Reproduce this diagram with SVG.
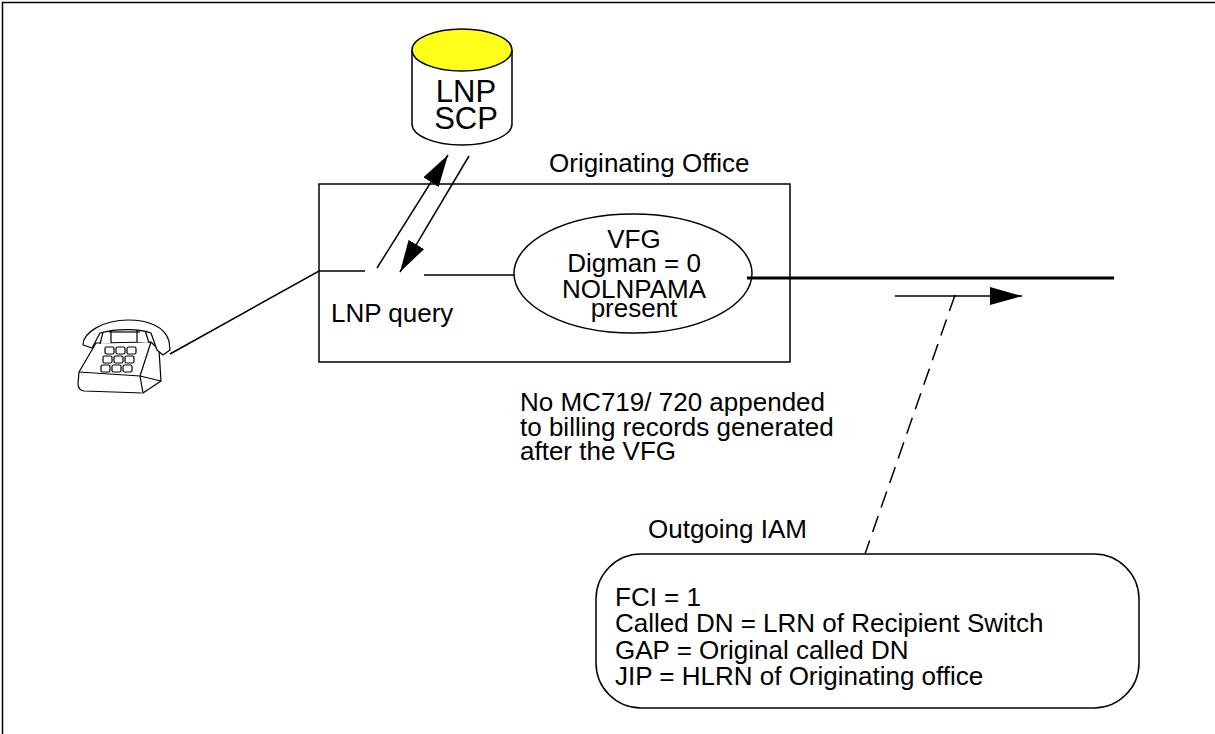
<svg xmlns="http://www.w3.org/2000/svg" width="1215" height="734" viewBox="0 0 1215 734">
  <style>
    .t { font-family: "Liberation Sans", Arial, sans-serif; font-size: 26px; fill: #000; }
    .big { font-size: 31px; }
    .c { text-anchor: middle; }
    .ln { fill: none; stroke: #000; stroke-width: 1.5; }
    .thick { fill: none; stroke: #000; stroke-width: 3; }
    .dash { fill: none; stroke: #000; stroke-width: 1.5; stroke-dasharray: 17 9; }
    .ph { fill: #fff; stroke: #000; stroke-width: 1.2; stroke-linejoin: round; }
  </style>
  <defs>
    <marker id="head" markerUnits="userSpaceOnUse" markerWidth="34" markerHeight="18" refX="32" refY="9" orient="auto">
      <path d="M0,0 L32,9 L0,18 Z" fill="#000"/>
    </marker>
  </defs>

  <rect width="1215" height="734" fill="#fff"/>
  <!-- page frame -->
  <path class="ln" d="M2.5,734 L2.5,2.5 L1215,2.5" stroke-width="2"/>

  <!-- LNP SCP database -->
  <g id="scp">
    <path d="M412,50 L412,124 A50,21 0 0 0 512,124 L512,50" fill="#fff" stroke="#000" stroke-width="1.5"/>
    <ellipse cx="462" cy="50" rx="50" ry="21" fill="#ffff19" stroke="#000" stroke-width="1.5"/>
    <text class="t big c" x="466" y="102">LNP</text>
    <text class="t big c" x="466" y="129">SCP</text>
  </g>

  <!-- originating office -->
  <g id="office">
    <rect class="ln" x="319" y="184" width="471" height="178"/>
    <text class="t" x="549" y="172">Originating Office</text>
    <text class="t" x="331" y="322">LNP query</text>
  </g>

  <!-- VFG -->
  <g id="vfg">
    <ellipse class="ln" cx="633" cy="273.5" rx="119" ry="59.5"/>
    <text class="t c" x="634" y="248">VFG</text>
    <text class="t c" x="634" y="272">Digman = 0</text>
    <text class="t c" x="634" y="298">NOLNPAMA</text>
    <text class="t c" x="634" y="317">present</text>
  </g>

  <!-- telephone set -->
  <g id="phone">
    <!-- body -->
    <path class="ph" d="M96,343 L151,342 L159,350 L161,381 L143,393 L84,391 Q78,390 78,384 L79,372 Z"/>
    <path class="ph" d="M79,372 L140,376 L143,393"/>
    <path class="ph" d="M140,376 L151,342"/>
    <path class="ph" d="M140,376 L161,381"/>
    <!-- cradle posts -->
    <path class="ph" d="M100,344 L104,328 L111,328 L111,343"/>
    <path class="ph" d="M137,342 L137,327 L144,327 L149,343"/>
    <!-- handset -->
    <path class="ph" d="M83,345 C83,332 104,320 128,320 C149,320 165,327 169,341 L170,350 L163,355 L157,350 L151,333 C141,329 118,328 100,333 L92,348 Z"/>
    <path class="ph" d="M109,332 L140,332"/>
    <!-- keypad -->
    <g class="ph" stroke-width="1">
      <rect x="105" y="347" width="9" height="7" rx="1.5"/>
      <rect x="116" y="347" width="9" height="7" rx="1.5"/>
      <rect x="127" y="347" width="9" height="7" rx="1.5"/>
      <rect x="103" y="356" width="9" height="7" rx="1.5"/>
      <rect x="114" y="356" width="9" height="7" rx="1.5"/>
      <rect x="125" y="356" width="9" height="7" rx="1.5"/>
      <rect x="101" y="365" width="9" height="7" rx="1.5"/>
      <rect x="112" y="365" width="9" height="7" rx="1.5"/>
      <rect x="123" y="365" width="9" height="7" rx="1.5"/>
    </g>
  </g>

  <!-- outgoing IAM -->
  <g id="iam">
    <rect class="ln" x="596" y="554" width="543" height="154" rx="45" ry="45"/>
    <text class="t" x="648" y="538">Outgoing IAM</text>
    <text class="t" x="615" y="606">FCI = 1</text>
    <text class="t" x="615" y="632">Called DN = LRN of Recipient Switch</text>
    <text class="t" x="615" y="659">GAP = Original called DN</text>
    <text class="t" x="615" y="685">JIP = HLRN of Originating office</text>
  </g>

  <!-- billing note -->
  <g id="note">
    <text class="t" x="520" y="411">No MC719/ 720 appended</text>
    <text class="t" x="520" y="435.5">to billing records generated</text>
    <text class="t" x="520" y="460">after the VFG</text>
  </g>

  <!-- connectors -->
  <g id="connectors">
    <path class="ln" d="M170,354 L319,271 L365,271"/>
    <path class="ln" d="M424,275 L514,275"/>
    <path class="ln" d="M377,268 L448,155" marker-end="url(#head)"/>
    <path class="ln" d="M469,156 L400,272" marker-end="url(#head)"/>
    <path class="thick" d="M747,278 L1114,278"/>
    <path class="ln" d="M895,296 L1022,296" marker-end="url(#head)"/>
    <path class="dash" d="M955,295 L865,554"/>
  </g>
</svg>
